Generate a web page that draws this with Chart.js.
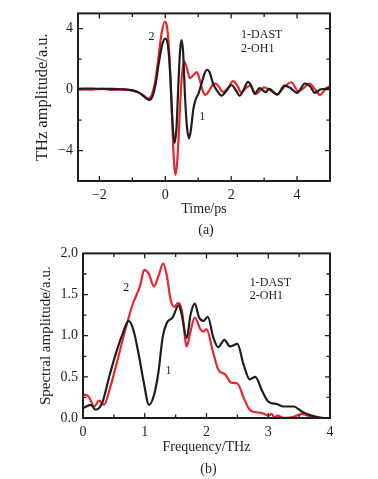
<!DOCTYPE html>
<html><head><meta charset="utf-8">
<script src="https://cdn.jsdelivr.net/npm/chart.js@4.4.0/dist/chart.umd.min.js"></script>
<style>
html,body{margin:0;padding:0;background:#fff;overflow:hidden;width:378px;height:479px}
canvas{display:block;position:absolute;left:0}
#c1{top:0}#c2{top:240px}
</style></head>
<body>
<canvas id="c1" width="378" height="240"></canvas>
<canvas id="c2" width="378" height="239"></canvas>
<script>
// ---- (a) time-domain data ----
const timeDAST = [-2.65,-2.2,-1.9,-1.6,-1.3,-1.0,-0.8,-0.65,-0.5,-0.4,-0.3,-0.2,-0.1,0,0.08,0.15,0.22,0.28,0.34,0.4,0.45,0.49,0.54,0.6,0.66,0.72,0.78,0.85,0.93,1.0,1.1,1.2,1.27,1.35,1.45,1.55,1.71,1.85,2.01,2.13,2.26,2.4,2.51,2.62,2.71,2.86,3.05,3.15,3.4,3.62,3.8,4.0,4.24,4.4,4.54,4.7,4.85,5.0];
const ampDAST  = [0.05,0.07,0.04,0.05,0.02,-0.05,-0.2,-0.45,-0.68,-0.5,0.3,1.7,2.9,3.35,2.9,1.0,-2.2,-3.5,-2.5,0.5,2.6,3.25,2.5,-0.5,-2.5,-3.2,-2.6,-1.3,-0.6,-0.3,0.4,1.1,1.3,1.1,0.4,0.0,-0.4,-0.1,0.3,0.0,-0.4,0.1,0.5,0.2,-0.28,0.1,-0.17,0.05,-0.33,0.26,0.1,-0.22,0.4,0.2,-0.22,0.0,0.05,0.12];
const timeOH1  = [-2.65,-2.2,-1.9,-1.6,-1.3,-1.0,-0.8,-0.65,-0.52,-0.42,-0.32,-0.22,-0.12,-0.02,0.06,0.13,0.2,0.26,0.31,0.37,0.44,0.5,0.57,0.65,0.75,0.85,0.96,1.05,1.14,1.22,1.32,1.45,1.52,1.62,1.75,1.9,2.06,2.2,2.3,2.45,2.57,2.75,2.9,3.0,3.15,3.4,3.6,3.83,4.03,4.2,4.38,4.55,4.7,4.85,5.0];
const ampOH1   = [0.03,0.0,0.05,-0.02,0.0,-0.05,-0.2,-0.4,-0.6,-0.4,0.4,1.9,3.6,4.45,4.0,2.0,-1.5,-4.6,-5.6,-4.5,-1.5,0.8,1.85,1.45,0.75,0.95,1.14,0.6,-0.1,-0.35,-0.1,0.35,0.4,0.2,-0.15,0.1,0.55,0.2,-0.2,0.1,0.25,-0.3,0.0,0.15,0.0,-0.3,0.15,0.48,-0.1,0.1,0.4,0.0,-0.35,0.0,0.25];
const timeTickLabels = [-2,0,2,4];
const timeMinorTicks = [-2,-1,0,1,2,3,4];
const ampTickLabels = [-4,0,4];
const ampMinorTicks = [-4,-2,0,2,4];

// ---- (b) spectra ----
const freqDAST = [0,0.13,0.2,0.31,0.42,0.53,0.64,0.74,0.82,0.9,0.98,1.07,1.15,1.22,1.29,1.36,1.45,1.55,1.6,1.68,1.74,1.81,1.88,1.95,2.02,2.11,2.19,2.29,2.38,2.5,2.6,2.7,2.79,2.9,3.0,3.14,3.25,3.41,3.54,3.7,3.9,4.0];
const specDAST = [0.12,0.16,0.10,0.18,0.49,0.78,1.02,1.18,1.06,0.78,0.45,0.16,0.28,0.55,0.98,1.16,1.22,1.37,1.25,0.97,1.25,1.39,1.22,1.18,1.23,0.98,0.86,0.95,0.87,0.9,0.65,0.47,0.50,0.33,0.2,0.17,0.14,0.14,0.08,0.03,0.0,0.0];
const freqOH1  = [0,0.05,0.1,0.18,0.26,0.34,0.44,0.53,0.66,0.8,0.93,0.99,1.06,1.15,1.22,1.3,1.36,1.42,1.48,1.54,1.6,1.68,1.74,1.81,1.9,1.95,2.0,2.1,2.19,2.3,2.4,2.5,2.6,2.7,2.8,2.9,3.01,3.05,3.1,3.15,3.25,3.4,3.55,3.7,3.9,4.0];
const specOH1  = [0.28,0.28,0.25,0.14,0.21,0.16,0.37,0.62,1.0,1.37,1.62,1.80,1.76,1.60,1.72,1.88,1.72,1.43,1.35,1.40,1.31,0.87,1.05,1.22,1.08,1.05,1.08,0.82,0.59,0.53,0.43,0.42,0.25,0.10,0.07,0.06,0.03,0.05,0.01,0.03,0.0,0.01,0.05,0.01,0.0,0.0];
const freqTickLabels = [0,1,2,3,4];
const freqMinorTicks = [0.5,1,1.5,2,2.5,3,3.5];
const specTickLabels = [0,0.5,1,1.5,2];
const specMinorTicks = [0.25,0.5,0.75,1,1.25,1.5,1.75];

const SERIF = '"Liberation Serif","Times New Roman",serif';
const INK = '#1e1e1e';
const RED = '#e8262b';

const framePlugin = {
  id: 'frame',
  afterDatasetsDraw(chart, args, o) {
    const {ctx, chartArea: a, scales: {x, y}} = chart;
    ctx.save();
    ctx.strokeStyle = INK;
    ctx.lineWidth = 1.3;
    ctx.beginPath();
    o.xMinor.forEach(v => {
      const p = x.getPixelForValue(v);
      const L = o.xMajor.includes(v) ? 5 : 3.5;
      ctx.moveTo(p, a.bottom); ctx.lineTo(p, a.bottom - L);
      ctx.moveTo(p, a.top); ctx.lineTo(p, a.top + L);
    });
    o.yMinor.forEach(v => {
      const p = y.getPixelForValue(v);
      const L = o.yMajor.includes(v) ? 5 : 3.5;
      ctx.moveTo(a.left, p); ctx.lineTo(a.left + L, p);
      ctx.moveTo(a.right, p); ctx.lineTo(a.right - L, p);
    });
    ctx.stroke();
    ctx.lineWidth = 2;
    ctx.strokeRect(a.left, a.top, a.right - a.left, a.bottom - a.top);
    ctx.fillStyle = INK;
    ctx.textBaseline = 'middle';
    o.notes.forEach(n => {
      ctx.font = n.size + 'px ' + SERIF;
      ctx.textAlign = n.align || 'center';
      ctx.fillText(n.text, x.getPixelForValue(n.x), y.getPixelForValue(n.y));
    });
    ctx.font = '14px ' + SERIF;
    ctx.textAlign = 'center';
    ctx.fillText(o.caption, (a.left + a.right) / 2 + 2, o.captionY);
    ctx.restore();
  }
};

function pts(xs, ys) { return xs.map((v, i) => ({x: v, y: ys[i]})); }

function build(id, s) {
  return new Chart(document.getElementById(id), {
    type: 'line',
    data: {datasets: [
      {label: '1-DAST', data: pts(s.x1, s.y1), borderColor: INK, borderWidth: 2.2, pointRadius: 0, cubicInterpolationMode: 'monotone', fill: false},
      {label: '2-OH1', data: pts(s.x2, s.y2), borderColor: RED, borderWidth: 2.2, pointRadius: 0, cubicInterpolationMode: 'monotone', fill: false}
    ]},
    options: {
      responsive: false, animation: false, devicePixelRatio: 1,
      layout: {padding: {left: 0, right: s.padRight, top: s.padTop, bottom: 0}},
      plugins: {
        legend: {display: false}, tooltip: {enabled: false},
        frame: {xMinor: s.xMinor, xMajor: s.xTicks, yMinor: s.yMinor, yMajor: s.yTicks, notes: s.notes, caption: s.caption, captionY: s.captionY}
      },
      scales: {
        x: {
          type: 'linear', min: s.xMin, max: s.xMax,
          grid: {display: false, drawTicks: false}, border: {display: false},
          afterBuildTicks: sc => { sc.ticks = s.xTicks.map(v => ({value: v})); },
          afterFit: sc => { sc.height = s.xH; },
          ticks: {padding: 6, autoSkip: false, maxRotation: 0, color: INK, font: {family: SERIF, size: 14}, callback: s.xFmt},
          title: {display: true, text: s.xTitle, color: INK, font: {family: SERIF, size: 14}, padding: {top: 0, bottom: s.xTitlePad}}
        },
        y: {
          type: 'linear', min: s.yMin, max: s.yMax,
          grid: {display: false, drawTicks: false}, border: {display: false},
          afterBuildTicks: sc => { sc.ticks = s.yTicks.map(v => ({value: v})); },
          afterFit: sc => { sc.width = s.yW; },
          ticks: {padding: 5, autoSkip: false, color: INK, font: {family: SERIF, size: 14}, callback: s.yFmt},
          title: {display: true, text: s.yTitle, color: INK, font: {family: SERIF, size: s.yTitleSize}, padding: {top: s.yTitlePad, bottom: 0}}
        }
      }
    },
    plugins: [framePlugin]
  });
}

const signed = v => (v < 0 ? '\u2212' + Math.abs(v) : String(v));

build('c1', {
  x1: timeDAST, y1: ampDAST, x2: timeOH1, y2: ampOH1,
  xMin: -2.65, xMax: 5, yMin: -6, yMax: 5,
  xTicks: timeTickLabels, xMinor: timeMinorTicks, yTicks: ampTickLabels, yMinor: ampMinorTicks,
  xFmt: signed, yFmt: signed,
  padRight: 48, padTop: 12, xH: 59, yW: 78,
  xTitle: 'Time/ps', yTitle: 'THz amplitude/a.u.', xTitlePad: 22, yTitlePad: 33, yTitleSize: 16.5,
  caption: '(a)', captionY: 230,
  notes: [
    {text: '2', x: -0.42, y: 3.43, size: 12},
    {text: '1', x: 1.12, y: -1.77, size: 12},
    {text: '1-DAST', x: 2.3, y: 3.6, size: 12, align: 'left'},
    {text: '2-OH1', x: 2.3, y: 2.69, size: 12, align: 'left'}
  ]
});

build('c2', {
  x1: freqDAST, y1: specDAST, x2: freqOH1, y2: specOH1,
  xMin: 0, xMax: 4, yMin: 0, yMax: 2,
  xTicks: freqTickLabels, xMinor: freqMinorTicks, yTicks: specTickLabels, yMinor: specMinorTicks,
  xFmt: v => String(v), yFmt: v => v.toFixed(1),
  padRight: 48, padTop: 13, xH: 61, yW: 83,
  xTitle: 'Frequency/THz', yTitle: 'Spectral amplitude/a.u.', xTitlePad: 23, yTitlePad: 37, yTitleSize: 15,
  caption: '(b)', captionY: 229,
  notes: [
    {text: '2', x: 0.70, y: 1.58, size: 12},
    {text: '1', x: 1.385, y: 0.57, size: 12},
    {text: '1-DAST', x: 2.70, y: 1.645, size: 12, align: 'left'},
    {text: '2-OH1', x: 2.70, y: 1.48, size: 12, align: 'left'}
  ]
});
</script>
</body></html>
